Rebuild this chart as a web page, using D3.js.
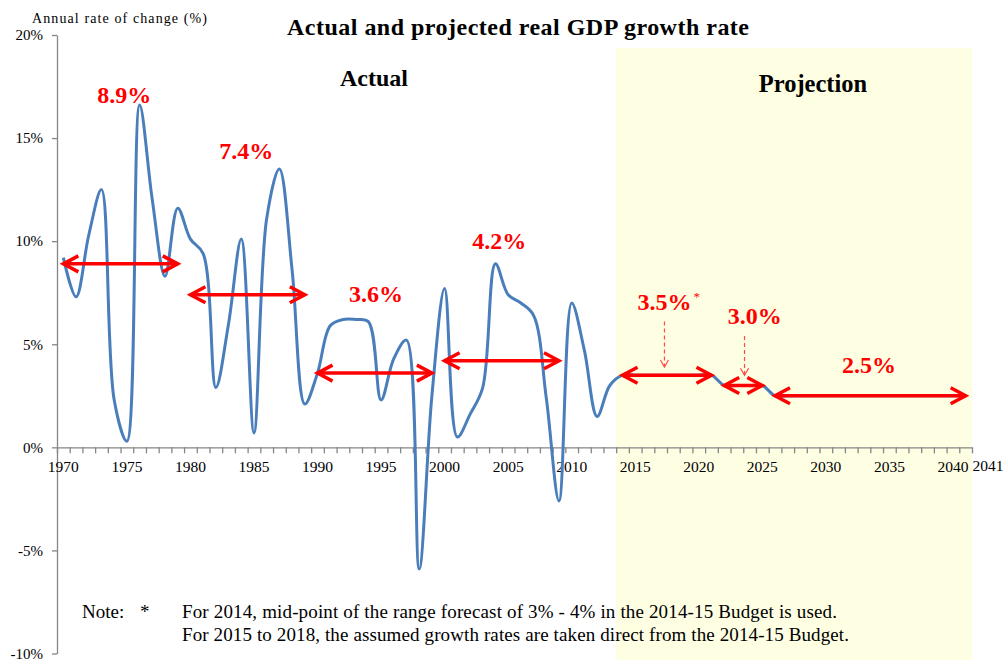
<!DOCTYPE html>
<html>
<head>
<meta charset="utf-8">
<script src="https://cdn.jsdelivr.net/npm/d3@7"></script>
<style>
  body { margin: 0; background: #fff; }
  svg { display: block; font-family: "Liberation Serif", "Times New Roman", serif; }
</style>
</head>
<body>
<div id="chart"></div>
<script>
// years on the category axis
const years = d3.range(1970, 2042)

// real GDP growth (%), 1970-2013 actual, 2014-2041 projection
const growth = [
    9.2, 7.3, 10.3, 12.5, 2.3, 0.3, 16.6, 12.0, 8.3, 11.6,
    10.1, 9.4, 2.9, 6.0, 10.1, 0.7, 11.1, 13.5, 8.6, 2.1,
    3.6, 5.9, 6.2, 6.2, 6.1, 2.3, 4.3, 5.2, -5.9, 2.5,
    7.7, 0.5, 1.6, 2.9, 8.9, 7.4, 7.0, 6.4, 2.4, -2.6,
    7.0, 4.7, 1.5, 3.0,
    3.5, 3.5, 3.5, 3.5, 3.5, 3.5, 3.5, 3.5,
    3.0, 3.0, 3.0, 3.0,
    2.5, 2.5, 2.5, 2.5, 2.5, 2.5, 2.5, 2.5, 2.5, 2.5, 2.5, 2.5, 2.5, 2.5, 2.5, 2.5
]

// average growth over each period (the red arrows)
const periodStart = [1970, 1980, 1990, 2000, 2014, 2022, 2026]
const periodEnd = [1979, 1989, 1999, 2009, 2021, 2025, 2041]
const periodAvg = [8.9, 7.4, 3.6, 4.2, 3.5, 3.0, 2.5]
const periodLabels = ['8.9%', '7.4%', '3.6%', '4.2%', '3.5%', '3.0%', '2.5%']
// where each label sits, in data units (year, %)
const labelYear = [1974.8, 1984.4, 1994.6, 2004.3, 2017.3, 2024.4, 2033.4]
const labelValue = [16.7, 14.0, 7.05, 9.6, 6.67, 6.0, 3.6]

// dashed pointers under the 3.5% and 3.0% labels
const pointerYear = [2017.3, 2023.6]
const pointerFrom = [6.1, 5.4]
const pointerTo = [3.9, 3.5]

const yTicks = [-10, -5, 0, 5, 10, 15, 20]
const xLabelYears = [1970, 1975, 1980, 1985, 1990, 1995, 2000, 2005, 2010, 2015, 2020, 2025, 2030, 2035, 2040]
const projectionStart = 2014

const width = 1006, height = 660
const plotLeft = 57, plotRight = 972, plotTop = 35, plotBottom = 653.5
const serif = '"Liberation Serif", "Times New Roman", serif'
const axisGrey = '#868686'
const lineBlue = '#4a7ebb'
const red = '#ff0000'

const svg = d3.select('#chart').append('svg')
    .attr('width', width)
    .attr('height', height)

svg.append('rect').attr('width', width).attr('height', height).attr('fill', '#fff')

// linear year scale: each year is centred in its category slot
const x = d3.scaleLinear()
    .domain([years[0] - 0.5, years[years.length - 1] + 0.5])
    .range([plotLeft, plotRight])

const y = d3.scaleLinear()
    .domain([-10, 20])
    .range([plotBottom, plotTop])

// projection shading
svg.append('rect')
    .attr('x', x(projectionStart - 0.5))
    .attr('y', 48)
    .attr('width', x(years[years.length - 1] + 0.5) - x(projectionStart - 0.5))
    .attr('height', height - 48)
    .attr('fill', '#fefee3')

// y axis
const yAxis = svg.append('g')
    .attr('transform', 'translate(' + plotLeft + ',0)')
    .call(d3.axisLeft(y).tickValues(yTicks).tickFormat(d => d + '%').tickSize(5).tickSizeOuter(0).tickPadding(9))
    .attr('font-family', serif)
    .attr('font-size', 15)
yAxis.select('.domain').attr('stroke', axisGrey).attr('stroke-width', 1.3)
yAxis.selectAll('.tick line').attr('stroke', axisGrey).attr('stroke-width', 1.3)
yAxis.selectAll('.tick text').attr('fill', '#000')

// x axis on the zero line, ticks between categories
const boundaries = d3.range(years[0] - 0.5, years[years.length - 1] + 1)
const xAxis = svg.append('g')
    .attr('transform', 'translate(0,' + y(0) + ')')
    .call(d3.axisBottom(x).tickValues(boundaries).tickFormat('').tickSize(6).tickSizeOuter(0))
xAxis.select('.domain').attr('stroke', axisGrey).attr('stroke-width', 1.3)
xAxis.selectAll('.tick line').attr('stroke', axisGrey).attr('stroke-width', 1.3)

svg.append('g').selectAll('text')
    .data(xLabelYears)
    .enter().append('text')
    .attr('x', d => x(d))
    .attr('y', 472)
    .attr('text-anchor', 'middle')
    .attr('font-size', 15.5)
    .text(d => d)

svg.append('text')
    .attr('x', 988)
    .attr('y', 471)
    .attr('text-anchor', 'middle')
    .attr('font-size', 15.5)
    .text('2041')

// growth line, smoothed like the spreadsheet original
const line = d3.line()
    .x((d, i) => x(years[i]))
    .y(d => y(d))
    .curve(d3.curveCatmullRom.alpha(0.5))

svg.append('path')
    .datum(growth)
    .attr('d', line)
    .attr('fill', 'none')
    .attr('stroke', lineBlue)
    .attr('stroke-width', 3)

// period arrows
const arrows = svg.append('g')
    .attr('stroke', red)
    .attr('stroke-width', 3.5)
    .attr('fill', 'none')
    .selectAll('g')
    .data(periodAvg)
    .enter().append('g')

arrows.append('line')
    .attr('x1', (d, i) => x(periodStart[i]))
    .attr('x2', (d, i) => x(periodEnd[i]))
    .attr('y1', d => y(d))
    .attr('y2', d => y(d))

arrows.append('path')
    .attr('d', (d, i) => {
        const x1 = x(periodStart[i]), x2 = x(periodEnd[i]), yy = y(d)
        return 'M' + (x1 + 15) + ',' + (yy - 8) + 'L' + x1 + ',' + yy + 'L' + (x1 + 15) + ',' + (yy + 8) +
            'M' + (x2 - 15) + ',' + (yy - 8) + 'L' + x2 + ',' + yy + 'L' + (x2 - 15) + ',' + (yy + 8)
    })

// period labels
svg.append('g').selectAll('text')
    .data(periodLabels)
    .enter().append('text')
    .attr('x', (d, i) => x(labelYear[i]))
    .attr('y', (d, i) => y(labelValue[i]))
    .attr('text-anchor', 'middle')
    .attr('font-size', 24)
    .attr('font-weight', 'bold')
    .attr('fill', red)
    .text(d => d)

svg.append('text')
    .attr('x', x(labelYear[4]) + 29)
    .attr('y', y(labelValue[4]) - 9)
    .attr('font-size', 13)
    .attr('fill', red)
    .text('*')

// dashed pointers
const pointers = svg.append('g')
    .attr('stroke', '#ff4a4a')
    .attr('stroke-width', 1.2)
    .attr('fill', 'none')
    .selectAll('g')
    .data(pointerYear)
    .enter().append('g')

pointers.append('line')
    .attr('x1', d => x(d))
    .attr('x2', d => x(d))
    .attr('y1', (d, i) => y(pointerFrom[i]))
    .attr('y2', (d, i) => y(pointerTo[i]))
    .attr('stroke-dasharray', '4,3')

pointers.append('path')
    .attr('d', (d, i) => {
        const px = x(d), py = y(pointerTo[i])
        return 'M' + (px - 4) + ',' + (py - 7) + 'L' + px + ',' + py + 'L' + (px + 4) + ',' + (py - 7)
    })

// titles
svg.append('text')
    .attr('x', 287)
    .attr('y', 34.5)
    .attr('font-size', 24)
    .attr('font-weight', 'bold')
    .attr('textLength', 462)
    .text('Actual and projected real GDP growth rate')

svg.append('text')
    .attr('x', 32)
    .attr('y', 23)
    .attr('font-size', 14)
    .attr('textLength', 175)
    .text('Annual  rate of change  (%)')

svg.append('text')
    .attr('x', 374)
    .attr('y', 86)
    .attr('text-anchor', 'middle')
    .attr('font-size', 24)
    .attr('font-weight', 'bold')
    .text('Actual')

svg.append('text')
    .attr('x', 813)
    .attr('y', 92)
    .attr('text-anchor', 'middle')
    .attr('font-size', 24.5)
    .attr('font-weight', 'bold')
    .text('Projection')

// note
const note = svg.append('g').attr('font-size', 19)
note.append('text').attr('x', 82).attr('y', 618).text('Note:')
note.append('text').attr('x', 140).attr('y', 618).text('*')
note.append('text').attr('x', 182).attr('y', 618).attr('textLength', 655)
    .text('For 2014, mid-point of the range forecast of 3% - 4% in the 2014-15 Budget is used.')
note.append('text').attr('x', 182).attr('y', 641).attr('textLength', 667)
    .text('For 2015 to 2018, the assumed growth rates are taken direct from the 2014-15 Budget.')
</script>
</body>
</html>
